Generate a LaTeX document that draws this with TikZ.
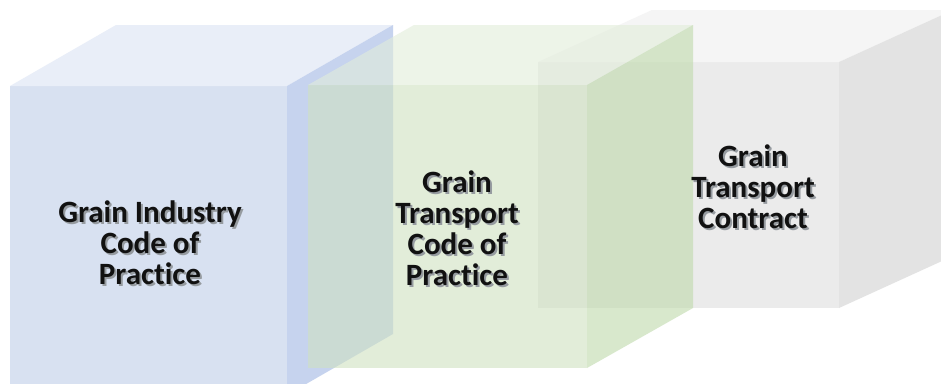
\documentclass[tikz,border=0pt]{standalone}
\usepackage{fontspec}
\setmainfont{Carlito}[Ligatures={NoCommon}]
\definecolor{bluefront}{RGB}{216,225,241}
\definecolor{bluetop}{RGB}{233,238,248}
\definecolor{blueside}{RGB}{198,211,238}
\definecolor{grayfront}{RGB}{235,235,235}
\definecolor{graytop}{RGB}{245,245,245}
\definecolor{grayside}{RGB}{227,227,227}
\definecolor{greenfront}{RGB}{207,225,193}
\definecolor{greentop}{RGB}{226,237,218}
\definecolor{greenside}{RGB}{190,218,170}
\definecolor{txt}{RGB}{17,17,17}
\definecolor{shade}{RGB}{150,155,160}
\newcommand{\mycube}[9]{%
  % #1 x0, #2 y0, #3 x1, #4 y1, #5 dx, #6 dy, #7 front, #8 top, #9 side
  \fill[#7] (#1,#2) rectangle (#3,#4);
  \fill[#8] (#1,#2) -- ++(#5,#6) -- ({#3+#5},{#2+#6}) -- (#3,#2) -- cycle;
  \fill[#9] (#3,#2) -- ++(#5,#6) -- ({#3+#5},{#4+#6}) -- (#3,#4) -- cycle;
}
\newcommand{\shtxt}[1]{\rlap{\kern2pt\raisebox{-2pt}{\textcolor{shade}{#1}}}#1}
\tikzset{
  label/.style={font=\bfseries\fontsize{31}{31}\selectfont, align=center, text=txt, inner sep=0pt}
}
\begin{document}
\begin{tikzpicture}[x=1pt,y=-1pt]
\useasboundingbox (0,0) rectangle (941,383);
\clip (0,0) rectangle (941,383);
\fill[white] (0,0) rectangle (941,383);
% gray cube (back)
\mycube{538}{62}{839}{308}{114}{-52}{grayfront}{graytop}{grayside}
% blue cube
\mycube{10}{86}{287}{395}{106}{-61}{bluefront}{bluetop}{blueside}
% green cube (translucent, in front)
\begin{scope}[opacity=0.6]
\mycube{308}{85}{587}{368}{106}{-60}{greenfront}{greentop}{greenside}
\end{scope}
% texts
\node[label] (t1) at (150,244) {\shtxt{Grain Industry}\\\shtxt{Code of}\\\shtxt{Practice}};
\node[label] (t2) at (457,229) {\shtxt{Grain}\\\shtxt{Transport}\\\shtxt{Code of}\\\shtxt{Practice}};
\node[label] (t3) at (753,188) {\shtxt{Grain}\\\shtxt{Transport}\\\shtxt{Contract}};
\end{tikzpicture}
\end{document}
